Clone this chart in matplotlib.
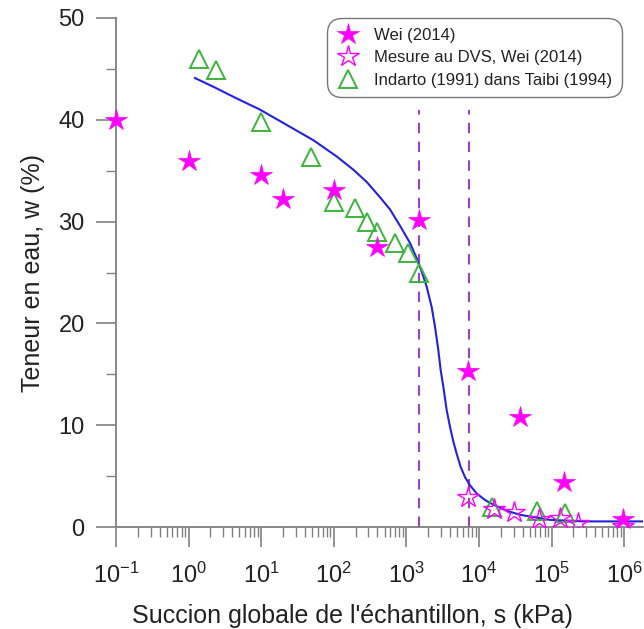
import numpy as np
import matplotlib
matplotlib.use("Agg")
import matplotlib.pyplot as plt
from matplotlib.ticker import LogLocator, NullFormatter, FixedLocator, FuncFormatter

plt.rcParams['font.family'] = ['Liberation Sans', 'DejaVu Sans']
plt.rcParams['mathtext.fontset'] = 'custom'
plt.rcParams['mathtext.rm'] = 'Liberation Sans'
plt.rcParams['mathtext.it'] = 'Liberation Sans:italic'
plt.rcParams['mathtext.bf'] = 'Liberation Sans:bold'

# Wei (2014) - filled stars
wei_s = [0.1, 1.0, 10.0, 20.0, 100.0, 400.0, 1500.0, 7100.0, 37000.0, 150000.0, 950000.0]
wei_w = [40.0, 36.0, 34.6, 32.2, 33.1, 27.5, 30.2, 15.3, 10.8, 4.4, 0.8]

# Mesure au DVS, Wei (2014) - open stars
dvs_s = [7000.0, 16000.0, 30000.0, 68000.0, 130000.0, 230000.0, 950000.0]
dvs_w = [2.9, 1.8, 1.5, 0.8, 0.9, 0.4, 0.1]

# Indarto (1991) dans Taibi (1994) - open triangles
ind_s = [1.4, 2.4, 10.0, 48.0, 100.0, 195.0, 290.0, 395.0, 700.0, 1050.0, 1480.0, 15000.0, 64000.0, 155000.0]
ind_w = [46.0, 44.9, 39.8, 36.3, 31.9, 31.3, 30.0, 29.0, 27.9, 26.9, 25.0, 2.0, 1.6, 1.4]

# Fitted curve (log10 of suction, water content)
curve_log_s = [0.088, 0.340, 0.662, 0.984, 1.351, 1.718, 2.040, 2.269, 2.453, 2.636, 2.774,
               2.912, 3.050, 3.142, 3.211, 3.280, 3.349, 3.394, 3.440, 3.473, 3.509, 3.555,
               3.601, 3.647, 3.693, 3.748, 3.808, 3.876, 3.968, 4.083, 4.198, 4.381, 4.565,
               4.98, 5.44, 6.26]
curve_w = [44.1, 43.25, 42.1, 41.0, 39.5, 38.0, 36.4, 35.1, 33.9, 32.4, 31.2,
           29.6, 27.9, 26.4, 25.1, 23.6, 21.6, 19.7, 17.4, 15.4, 13.8, 11.5,
           9.85, 8.4, 7.2, 5.9, 4.9, 4.1, 3.3, 2.65, 2.2, 1.6, 1.2,
           0.7, 0.55, 0.55]

# Vertical dashed lines (suction values)
vlines_s = [1500.0, 7300.0]

magenta = '#FF00FF'
green = '#3CB43C'
blue = '#2222DD'
purple = '#9B40C8'
gray = '#808080'
text_c = '#222222'

fig = plt.figure(figsize=(6.44, 6.29), dpi=100)
ax = fig.add_axes([116/644, 102/629, (643-116)/644, (527-18)/629])

for xv in vlines_s:
    ax.axvline(xv, ymax=0.82, color=purple, lw=1.5, ls=(0, (5, 4)), zorder=1)

ax.plot(10**np.array(curve_log_s), curve_w, color=blue, lw=1.5, zorder=2)

ax.plot(ind_s, ind_w, ls='none', marker='^', ms=13, mfc='none', mec=green, mew=1.4,
        label='Indarto (1991) dans Taibi (1994)', zorder=3)
ax.plot(dvs_s, dvs_w, ls='none', marker='*', ms=16, mfc='none', mec=magenta, mew=1.0,
        label='Mesure au DVS, Wei (2014)', zorder=4)
ax.plot(wei_s, wei_w, ls='none', marker='*', ms=16, mfc=magenta, mec=magenta, mew=0.5,
        label='Wei (2014)', zorder=5, clip_on=False)

ax.set_xscale('log')
ax.set_xlim(0.1, 10**6.26)
ax.set_ylim(0, 50)

for sp in ['top', 'right']:
    ax.spines[sp].set_visible(False)
for sp in ['left', 'bottom']:
    ax.spines[sp].set_color(gray)
    ax.spines[sp].set_linewidth(1.3)

ax.xaxis.set_major_locator(LogLocator(base=10, numticks=20))
ax.xaxis.set_major_formatter(FuncFormatter(lambda v, p: r'$\mathregular{10^{%d}}$' % int(round(np.log10(v)))))
ax.xaxis.set_minor_locator(LogLocator(base=10, subs=np.arange(2, 10), numticks=20))
ax.xaxis.set_minor_formatter(NullFormatter())
ax.yaxis.set_major_locator(FixedLocator([0, 10, 20, 30, 40, 50]))
ax.yaxis.set_minor_locator(FixedLocator([5, 15, 25, 35, 45]))

ax.tick_params(axis='both', which='major', direction='out', length=14.5, width=1.2,
               color=gray, labelsize=17, labelcolor=text_c)
ax.tick_params(axis='x', which='major', pad=11)
ax.tick_params(axis='y', which='major', pad=8)
ax.tick_params(axis='both', which='minor', direction='out', length=7, width=1.0, color=gray)

ax.set_xlabel("Succion globale de l'échantillon, s (kPa)", fontsize=18, color=text_c)
ax.xaxis.set_label_coords(0.448, -0.151)
ax.set_ylabel("Teneur en eau, w (%)", fontsize=18, color=text_c, labelpad=10)

handles, labels = ax.get_legend_handles_labels()
order = [2, 1, 0]
leg = ax.legend([handles[i] for i in order], [labels[i] for i in order],
                loc='upper right', bbox_to_anchor=(630/644, 1 - 10/629),
                bbox_transform=fig.transFigure, fontsize=12, frameon=True,
                fancybox=True, edgecolor='#555555', handletextpad=0.9,
                borderpad=0.55, labelspacing=0.45, handlelength=1.4, markerscale=1.0)
leg.get_frame().set_linewidth(1.0)
leg.get_frame().set_boxstyle('round,pad=0,rounding_size=0.9')
for t in leg.get_texts():
    t.set_color(text_c)

fig.savefig('out.png', dpi=100)
